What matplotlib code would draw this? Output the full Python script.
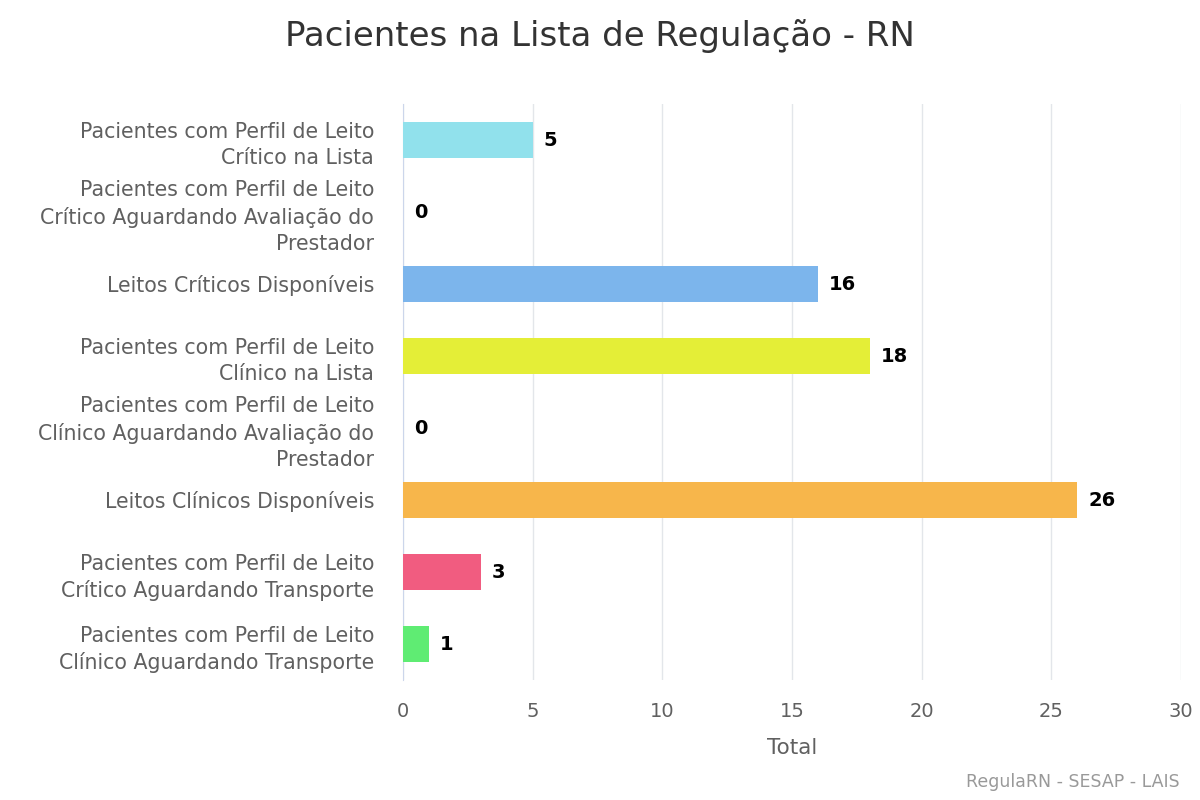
import matplotlib
matplotlib.use("Agg")
import matplotlib.pyplot as plt

plt.rcParams['font.family'] = ['DejaVu Sans']

categories = [
    "Pacientes com Perfil de Leito\nCrítico na Lista",
    "Pacientes com Perfil de Leito\nCrítico Aguardando Avaliação do\nPrestador",
    "Leitos Críticos Disponíveis",
    "Pacientes com Perfil de Leito\nClínico na Lista",
    "Pacientes com Perfil de Leito\nClínico Aguardando Avaliação do\nPrestador",
    "Leitos Clínicos Disponíveis",
    "Pacientes com Perfil de Leito\nCrítico Aguardando Transporte",
    "Pacientes com Perfil de Leito\nClínico Aguardando Transporte",
]
values = [5, 0, 16, 18, 0, 26, 3, 1]
colors = ["#91E1EC", "#7CB5EC", "#7CB5EC", "#E4EE37",
          "#E4EE37", "#F7B64B", "#F15C80", "#5FEC73"]
xticks = [0, 5, 10, 15, 20, 25, 30]

fig = plt.figure(figsize=(12, 8), dpi=100)
ax = fig.add_axes([0.336, 0.15, 0.648, 0.72])

pos = list(range(len(categories)))
ax.barh(pos, values, height=0.5, color=colors, zorder=3)
for y, v in zip(pos, values):
    ax.text(v + 0.42, y, str(v), va='center', ha='left', fontsize=14,
            fontweight='bold', color='black', zorder=4)

ax.set_ylim(len(categories) - 0.5, -0.5)
ax.set_xlim(0, 30)
ax.set_xticks(xticks)
ax.set_yticks(pos)
ax.set_yticklabels(categories, fontsize=14.8, color='#606060', linespacing=1.4)
ax.tick_params(axis='y', length=0, pad=21)
ax.tick_params(axis='x', length=0, pad=16, labelsize=14, labelcolor='#606060')
ax.grid(axis='x', color='#E3E6EA', linewidth=1, zorder=0)
for side in ['top', 'right', 'bottom']:
    ax.spines[side].set_visible(False)
ax.spines['left'].set_color('#CCD6EB')
ax.set_xlabel("Total", fontsize=15.5, color='#606060', labelpad=12)

fig.text(0.5, 0.955, "Pacientes na Lista de Regulação - RN", ha='center', va='center',
         fontsize=24.5, color='#333333')
fig.text(0.983, 0.022, "RegulaRN - SESAP - LAIS", ha='right', va='center',
         fontsize=12.5, color='#999999')

fig.savefig("out.png", dpi=100, facecolor='white')
